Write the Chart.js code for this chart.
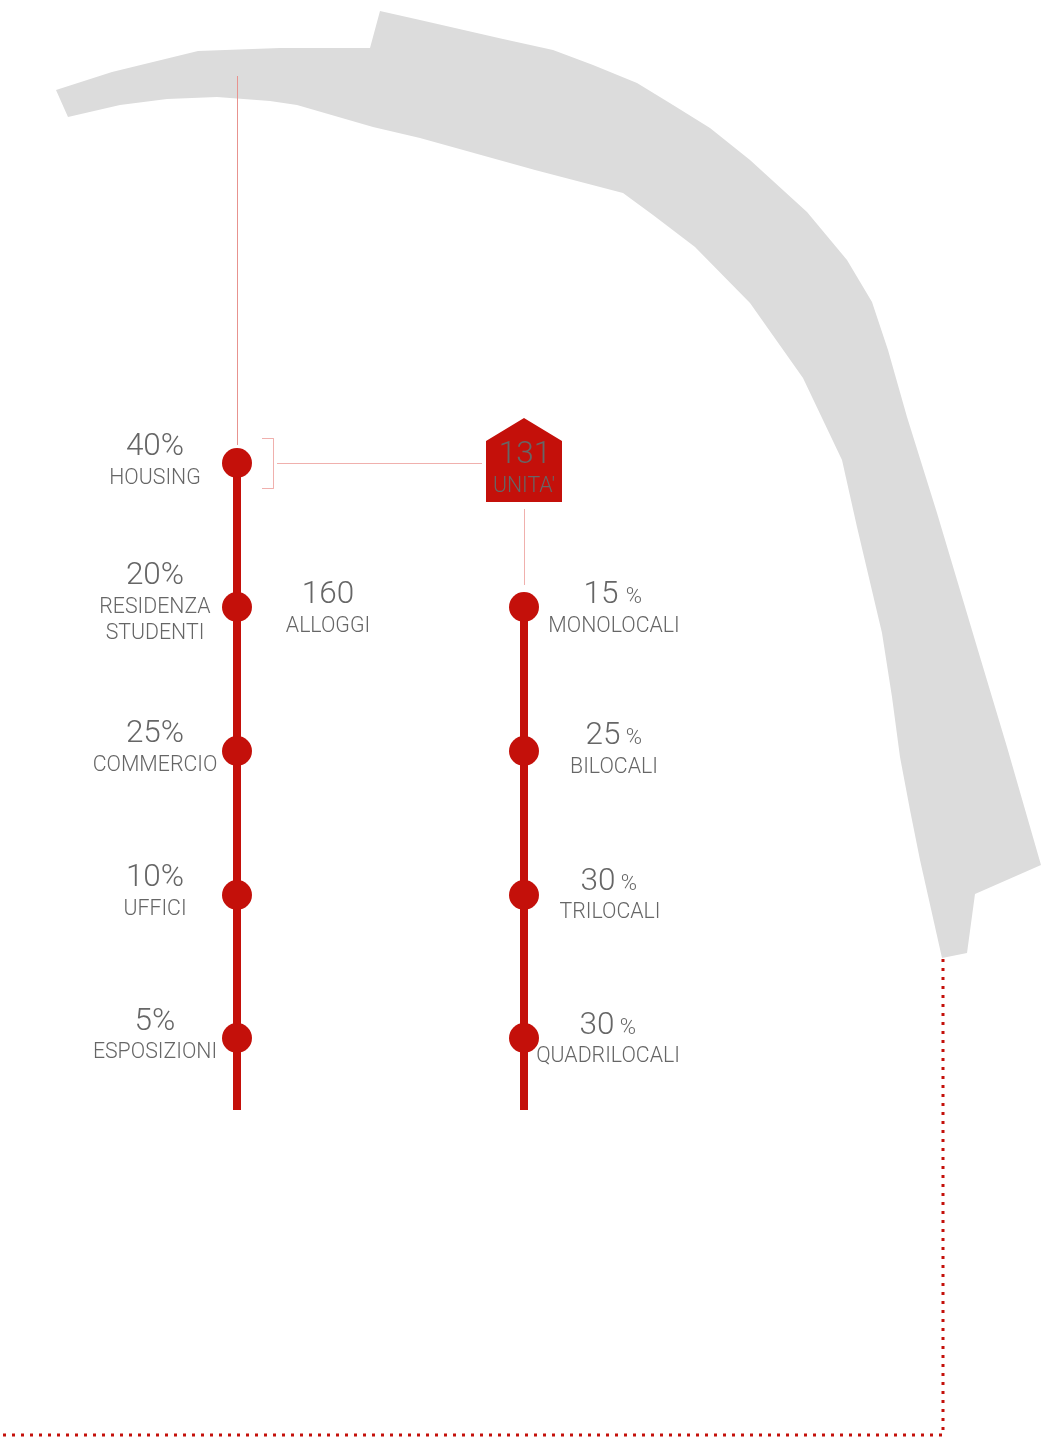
<!DOCTYPE html>
<html>
<head>
<meta charset="utf-8">
<title>Housing</title>
<script src="https://cdn.jsdelivr.net/npm/chart.js@4/dist/chart.umd.min.js"></script>
<style>
html, body { margin: 0; padding: 0; background: #fff; overflow: hidden; }
canvas { display: block; }
</style>
</head>
<body>
<canvas id="mycanvas" width="1048" height="1439"></canvas>
<script>
// left column: land use shares
var usePercent = [40, 20, 25, 10, 5];
var useNames = [["HOUSING"], ["RESIDENZA", "STUDENTI"], ["COMMERCIO"], ["UFFICI"], ["ESPOSIZIONI"]];
var useStops = [463, 607, 751, 895, 1038];

// right column: flat types
var flatPercent = [15, 25, 30, 30];
var flatNames = ["MONOLOCALI", "BILOCALI", "TRILOCALI", "QUADRILOCALI"];
var flatStops = [607, 751, 895, 1038];

var alloggiCount = 160;
var unitaCount = 131;

// river outline
var riverX = [56, 112, 198, 280, 370, 380, 420, 503, 553, 593, 637, 673, 710, 750, 807, 847, 872, 888, 907, 937, 977, 1007, 1041, 975, 967, 942, 920, 910, 900, 892, 882, 857, 842, 803, 750, 695, 653, 623, 535, 420, 373, 297, 270, 217, 167, 120, 68];
var riverY = [90, 72, 51, 48, 48, 11, 20, 39, 50, 65, 83, 105, 128, 160, 212, 260, 302, 350, 417, 513, 647, 747, 865, 894, 953, 958, 860, 810, 757, 697, 633, 527, 460, 378, 303, 247, 215, 193, 170, 138, 127, 105, 101, 97, 99, 105, 117];

// house marker outline
var houseX = [486, 524, 562, 562, 486, 486];
var houseY = [441, 418, 441, 502, 502, 441];

var leftX = 237;
var rightX = 524;
var spineEnd = 1110;

var RED = "#c4100a";
var PALE = "#f0b0ad";
var TEXT = "#666666";
var FONT = "300 {s}px Roboto, 'Liberation Sans', sans-serif";

function pts(xs, ys) {
	var out = [];
	for (var i in xs) {
		out.push({x: xs[i], y: ys[i]});
	}
	return out;
}

function vertical(x, stops) {
	var out = [];
	for (var i in stops) {
		out.push({x: x, y: stops[i]});
	}
	return out;
}

function thin(data, color) {
	return {
		type: "line",
		data: data,
		borderColor: color,
		borderWidth: 1,
		pointRadius: 0,
		fill: false,
		tension: 0
	};
}

var labelsPlugin = {
	id: "labels",
	afterDatasetsDraw: function(chart) {
		var c = chart.ctx;
		var sx = chart.scales.x;
		var sy = chart.scales.y;

		function put(str, x, y, size) {
			c.font = FONT.replace("{s}", size);
			c.fillStyle = TEXT;
			c.textAlign = "center";
			c.textBaseline = "middle";
			c.fillText(str, sx.getPixelForValue(x), sy.getPixelForValue(y + 2.5));
		}

		c.save();
		// left column
		var pctOffset = [-18, -33, -19, -19, -18];
		var nameOffset = [13, -2, 12, 12, 12];
		for (var i in usePercent) {
			put(usePercent[i] + "%", 155, useStops[i] + pctOffset[i], 31.5);
			for (var j in useNames[i]) {
				put(useNames[i][j], 155, useStops[i] + nameOffset[i] + j * 26, 21.3);
			}
		}
		put(String(alloggiCount), 328, 593, 31.5);
		put("ALLOGGI", 328, 624, 21.3);

		// right column
		var numX = [601, 603, 598, 597];
		var signX = [634, 634, 629, 628];
		var nameX = [614, 614, 610, 608];
		var numY = [593, 734, 880, 1024];
		var subY = [624, 765, 910, 1054];
		for (var k in flatPercent) {
			put(String(flatPercent[k]), numX[k], numY[k], 31.5);
			put("%", signX[k], numY[k] + 2, 22);
			put(flatNames[k], nameX[k], subY[k], 21.3);
		}

		// inside the house
		put(String(unitaCount), 525, 453, 31.5);
		put("UNITA'", 524, 484, 21.3);
		c.restore();
	}
};

var ctx = document.getElementById("mycanvas");

var layout = new Chart(ctx, {
	type: "scatter",
	data: {
		// first dataset ends up on top, river goes last
		datasets: [
			{
				type: "line",
				data: pts([943, 943, 0], [959, 1435, 1435]),
				borderColor: RED,
				borderWidth: 3,
				borderDash: [3, 6],
				pointRadius: 0,
				fill: false,
				tension: 0
			},
			{
				type: "line",
				data: vertical(rightX, flatStops.concat([spineEnd])),
				borderColor: RED,
				borderWidth: 8,
				borderCapStyle: "butt",
				pointRadius: [15, 15, 15, 15, 0],
				pointBackgroundColor: RED,
				pointBorderWidth: 0,
				fill: false
			},
			{
				type: "line",
				data: vertical(leftX, useStops.concat([spineEnd])),
				borderColor: RED,
				borderWidth: 8,
				borderCapStyle: "butt",
				pointRadius: [15, 15, 15, 15, 15, 0],
				pointBackgroundColor: RED,
				pointBorderWidth: 0,
				fill: false
			},
			{
				type: "line",
				data: pts(houseX, houseY),
				borderWidth: 0,
				borderColor: RED,
				backgroundColor: RED,
				pointRadius: 0,
				fill: "shape",
				tension: 0
			},
			thin(pts([524.5, 524.5], [509, 585]), PALE),
			thin(pts([277, 482], [463.5, 463.5]), PALE),
			thin(pts([262, 273.5, 273.5, 262], [438.5, 438.5, 488.5, 488.5]), PALE),
			thin(pts([237.5, 237.5], [76, 445]), "#e8938f"),
			{
				type: "line",
				data: pts(riverX, riverY),
				borderWidth: 0,
				borderColor: "#dcdcdc",
				backgroundColor: "#dcdcdc",
				pointRadius: 0,
				fill: "shape",
				tension: 0
			}
		]
	},
	options: {
		responsive: false,
		animation: false,
		layout: { padding: 0, autoPadding: false },
		plugins: {
			legend: { display: false },
			tooltip: { enabled: false }
		},
		scales: {
			x: { type: "linear", min: 0, max: 1048, display: false },
			y: { type: "linear", min: 0, max: 1439, reverse: true, display: false }
		}
	},
	plugins: [labelsPlugin]
});
</script>
</body>
</html>
